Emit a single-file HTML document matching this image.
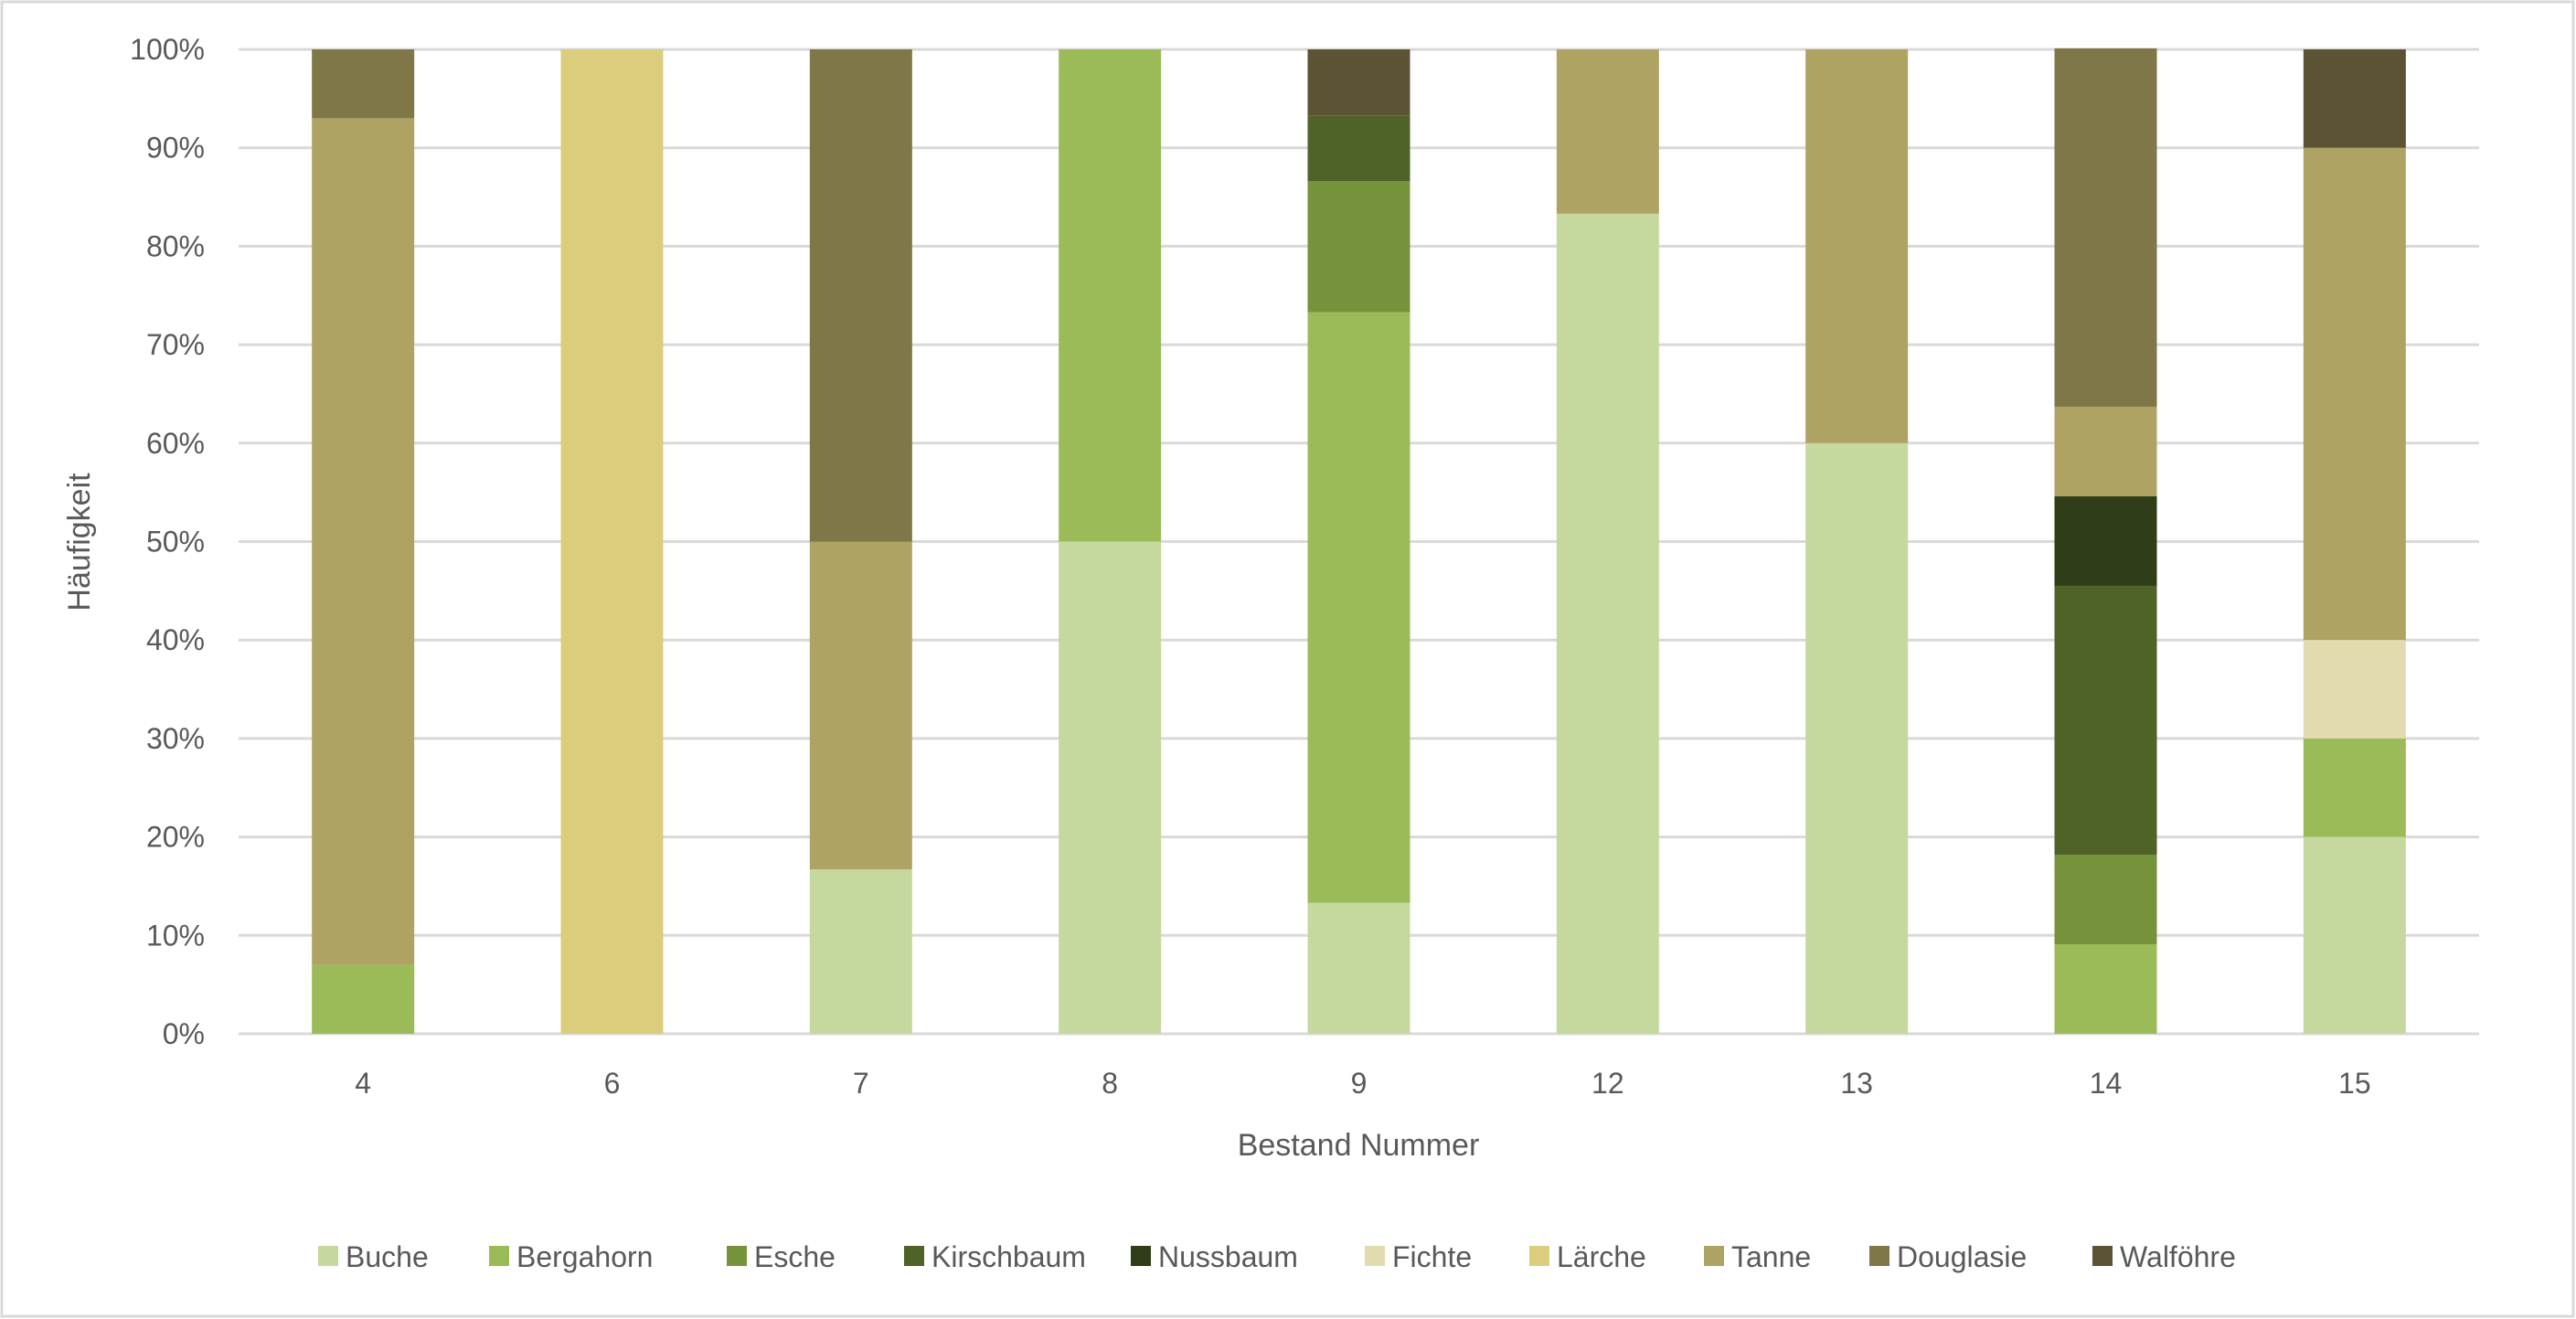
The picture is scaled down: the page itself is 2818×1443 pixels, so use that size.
<!DOCTYPE html>
<html><head><meta charset="utf-8"><style>
html,body{margin:0;padding:0;background:#fff;}
svg{display:block;font-family:"Liberation Sans",sans-serif;}
</style></head><body>
<svg id="chart" width="2818" height="1443" viewBox="0 0 2818 1443" xmlns="http://www.w3.org/2000/svg">
<rect x="2" y="2" width="2813" height="1438" fill="#fff" stroke="#d9d9d9" stroke-width="3"/>
<g id="grid"></g><g id="bars"></g><g id="labels"></g><g id="legend"></g>
<text transform="translate(98,593) rotate(-90)" text-anchor="middle" font-size="34" fill="#595959">Häufigkeit</text>
<text x="1486" y="1264" text-anchor="middle" font-size="34" fill="#595959">Bestand Nummer</text>
</svg>
<script>
const categories = ["4","6","7","8","9","12","13","14","15"];
const seriesNames = ["Buche","Bergahorn","Esche","Kirschbaum","Nussbaum","Fichte","Lärche","Tanne","Douglasie","Walföhre"];
const colors = ["#c5d99e","#9bbb59","#76933c","#4f6228","#2f3d18","#e3dbb0","#dccd7d","#afa363","#7f7747","#5b5333"];
const buche      = [0,0,16.7,50,13.3,83.3,60,0,20];
const bergahorn  = [7,0,0,50,60,0,0,9.1,10];
const esche      = [0,0,0,0,13.3,0,0,9.1,0];
const kirschbaum = [0,0,0,0,6.7,0,0,27.3,0];
const nussbaum   = [0,0,0,0,0,0,0,9.1,0];
const fichte     = [0,0,0,0,0,0,0,0,10];
const laerche    = [0,100,0,0,0,0,0,0,0];
const tanne      = [86,0,33.3,0,0,16.7,40,9.1,50];
const douglasie  = [7,0,50,0,0,0,0,36.4,0];
const walfoehre  = [0,0,0,0,6.7,0,0,0,10];
const yTicks = [0,10,20,30,40,50,60,70,80,90,100];
const legendX = [348,535,795,989,1237,1493,1673,1864,2045,2289];

const series=[buche,bergahorn,esche,kirschbaum,nussbaum,fichte,laerche,tanne,douglasie,walfoehre];
const NS="http://www.w3.org/2000/svg";
const L=261,R=2712,T=54,B=1131,bw=112;
const y=v=>B-(B-T)*v/100;
const cw=(R-L)/categories.length;
const x=i=>L+cw*(i+0.5);
function mk(tag,attrs,parent){const e=document.createElementNS(NS,tag);for(const k in attrs)e.setAttribute(k,attrs[k]);parent.appendChild(e);return e;}
const grid=document.getElementById('grid'),bars=document.getElementById('bars'),labels=document.getElementById('labels'),legend=document.getElementById('legend');
yTicks.forEach(t=>{
  const ln=mk('line',{x1:L,x2:R,y1:y(t),y2:y(t),stroke:'#d9d9d9','stroke-width':3},grid);
  
  
  const tx=mk('text',{x:224,y:y(t)+11,'text-anchor':'end','font-size':32,fill:'#595959'},labels);
  tx.textContent=t+'%';
  
  
});
categories.forEach((c,i)=>{
  let acc=0;
  series.forEach((s,j)=>{
    const v=s[i]; if(!v) return;
    const r=mk('rect',{x:x(i)-bw/2,y:y(acc+v),width:bw,height:y(acc)-y(acc+v),fill:colors[j]},bars);
    
    
    acc+=v;
  });
  const tx=mk('text',{x:x(i),y:1196,'text-anchor':'middle','font-size':32,fill:'#595959'},labels);
  tx.textContent=c;
  
  
});
seriesNames.forEach((n,j)=>{
  const g=mk('g',{},legend);
  
  
  mk('rect',{x:legendX[j],y:1363,width:22,height:22,fill:colors[j]},g);
  const tx=mk('text',{x:legendX[j]+30,y:1386,'font-size':32,fill:'#595959'},g);
  tx.textContent=n;
});
</script>
</body></html>
